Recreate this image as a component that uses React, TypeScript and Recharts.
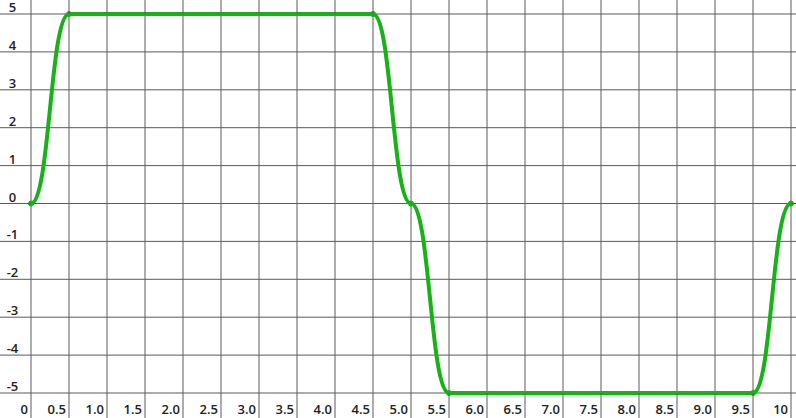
import React from 'react'
import { LineChart, Line, XAxis, YAxis, CartesianGrid } from 'recharts'

// chart values
const xValues = [0, 0.5, 4.5, 5, 5.5, 9.5, 10]
const yValues = [0, 5, 5, 0, -5, -5, 0]
const xTicks = [0, 0.5, 1, 1.5, 2, 2.5, 3, 3.5, 4, 4.5, 5, 5.5, 6, 6.5, 7, 7.5, 8, 8.5, 9, 9.5, 10]
const xTickLabels = ['0', '0.5', '1.0', '1.5', '2.0', '2.5', '3.0', '3.5', '4.0', '4.5', '5.0', '5.5', '6.0', '6.5', '7.0', '7.5', '8.0', '8.5', '9.0', '9.5', '10']
const yTicks = [-5, -4, -3, -2, -1, 0, 1, 2, 3, 4, 5]

const data = xValues.map((x, i) => ({ x, y: yValues[i] }))

const W = 796
const H = 418
const TOP = 14
const RIGHT = 5
const GRID = '#5a5a5a'
const GREEN = '#16b216'
const FONT = '"Open Sans", "Noto Sans", sans-serif'

if (typeof document !== 'undefined') document.body.style.margin = '0'

const XTick = (props: any) => {
  const { x, y, index } = props
  return (
    <g>
      <line x1={x} x2={x} y1={0} y2={TOP} stroke={GRID} />
      <line x1={x} x2={x} y1={y} y2={H} stroke={GRID} />
      <text x={x - 3} y={y + 21} textAnchor="end" fontSize={13} fontWeight={600} fill="#222" fontFamily={FONT}>
        {xTickLabels[index]}
      </text>
    </g>
  )
}

const YTick = (props: any) => {
  const { x, y, payload } = props
  return (
    <g>
      <line x1={0} x2={x} y1={y} y2={y} stroke={GRID} />
      <line x1={W - RIGHT} x2={W} y1={y} y2={y} stroke={GRID} />
      <text x={12.5} y={y - 2} textAnchor="middle" fontSize={13} fontWeight={600} fill="#222" fontFamily={FONT}>
        {payload.value}
      </text>
    </g>
  )
}

export default function App() {
  return (
    <LineChart width={W} height={H} data={data} margin={{ top: TOP, right: RIGHT, bottom: 0, left: 0 }}>
      <CartesianGrid stroke={GRID} strokeOpacity={1} />
      <XAxis
        dataKey="x"
        type="number"
        domain={[0, 10]}
        ticks={xTicks}
        interval={0}
        height={25}
        axisLine={false}
        tickLine={false}
        tickSize={0}
        tickMargin={0}
        tick={<XTick />}
      />
      <YAxis
        type="number"
        domain={[-5, 5]}
        ticks={yTicks}
        interval={0}
        width={31}
        axisLine={false}
        tickLine={false}
        tickSize={0}
        tickMargin={0}
        tick={<YTick />}
      />
      <Line
        dataKey="y"
        type="bumpX"
        stroke={GREEN}
        strokeWidth={4}
        dot={{ r: 2.5, fill: GREEN, stroke: GREEN, strokeWidth: 1 }}
        isAnimationActive={false}
      />
    </LineChart>
  )
}
